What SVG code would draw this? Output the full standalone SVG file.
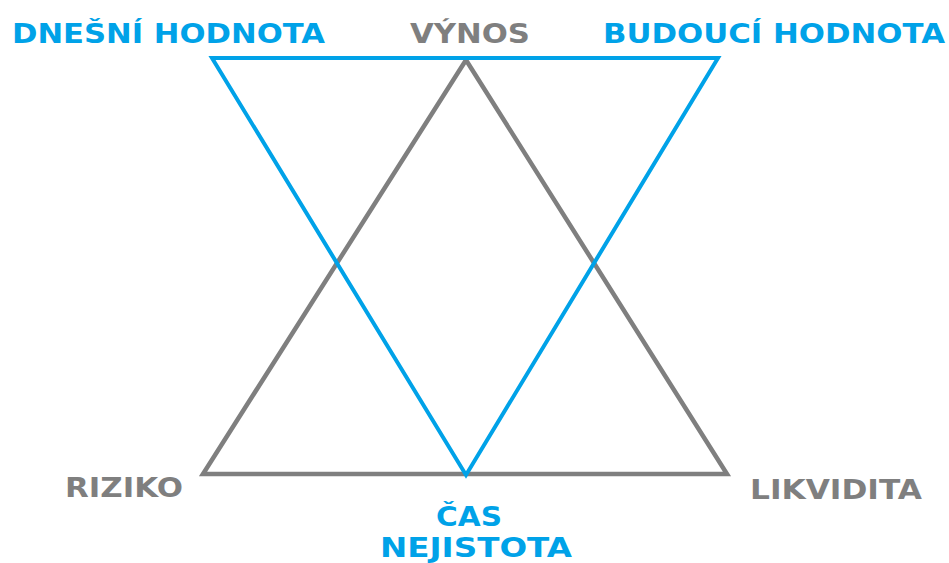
<svg xmlns="http://www.w3.org/2000/svg" width="949" height="563" viewBox="0 0 949 563">
<style>
.t{font-family:"DejaVu Sans","Verdana",sans-serif;font-weight:bold;font-size:27px}
.b{fill:#00a2e8}
.g{fill:#7f7f7f}
.lb{fill:none;stroke:#00a2e8;stroke-width:4;stroke-linejoin:miter}
.lg{fill:none;stroke:#7f7f7f;stroke-width:4.5;stroke-linejoin:miter}
</style>
<rect width="949" height="563" fill="#ffffff"/>
<g id="connectors">
<polygon class="lg" points="466,60 203,474 727,474"/>
<polygon class="lb" points="212,58 718,58 466,475"/>
</g>
<g id="dnesni"><text class="t b" x="12" y="43" textLength="313" lengthAdjust="spacingAndGlyphs">DNEŠNÍ HODNOTA</text></g>
<g id="vynos"><text class="t g" x="410" y="43" textLength="120" lengthAdjust="spacingAndGlyphs">VÝNOS</text></g>
<g id="budouci"><text class="t b" x="603" y="43" textLength="342" lengthAdjust="spacingAndGlyphs">BUDOUCÍ HODNOTA</text></g>
<g id="riziko"><text class="t g" x="65" y="497" textLength="118" lengthAdjust="spacingAndGlyphs">RIZIKO</text></g>
<g id="likvidita"><text class="t g" x="750" y="499" textLength="172" lengthAdjust="spacingAndGlyphs">LIKVIDITA</text></g>
<g id="cas"><text class="t b" x="436" y="526" textLength="66" lengthAdjust="spacingAndGlyphs">ČAS</text><text class="t b" x="380" y="557" textLength="192" lengthAdjust="spacingAndGlyphs">NEJISTOTA</text></g>
</svg>
